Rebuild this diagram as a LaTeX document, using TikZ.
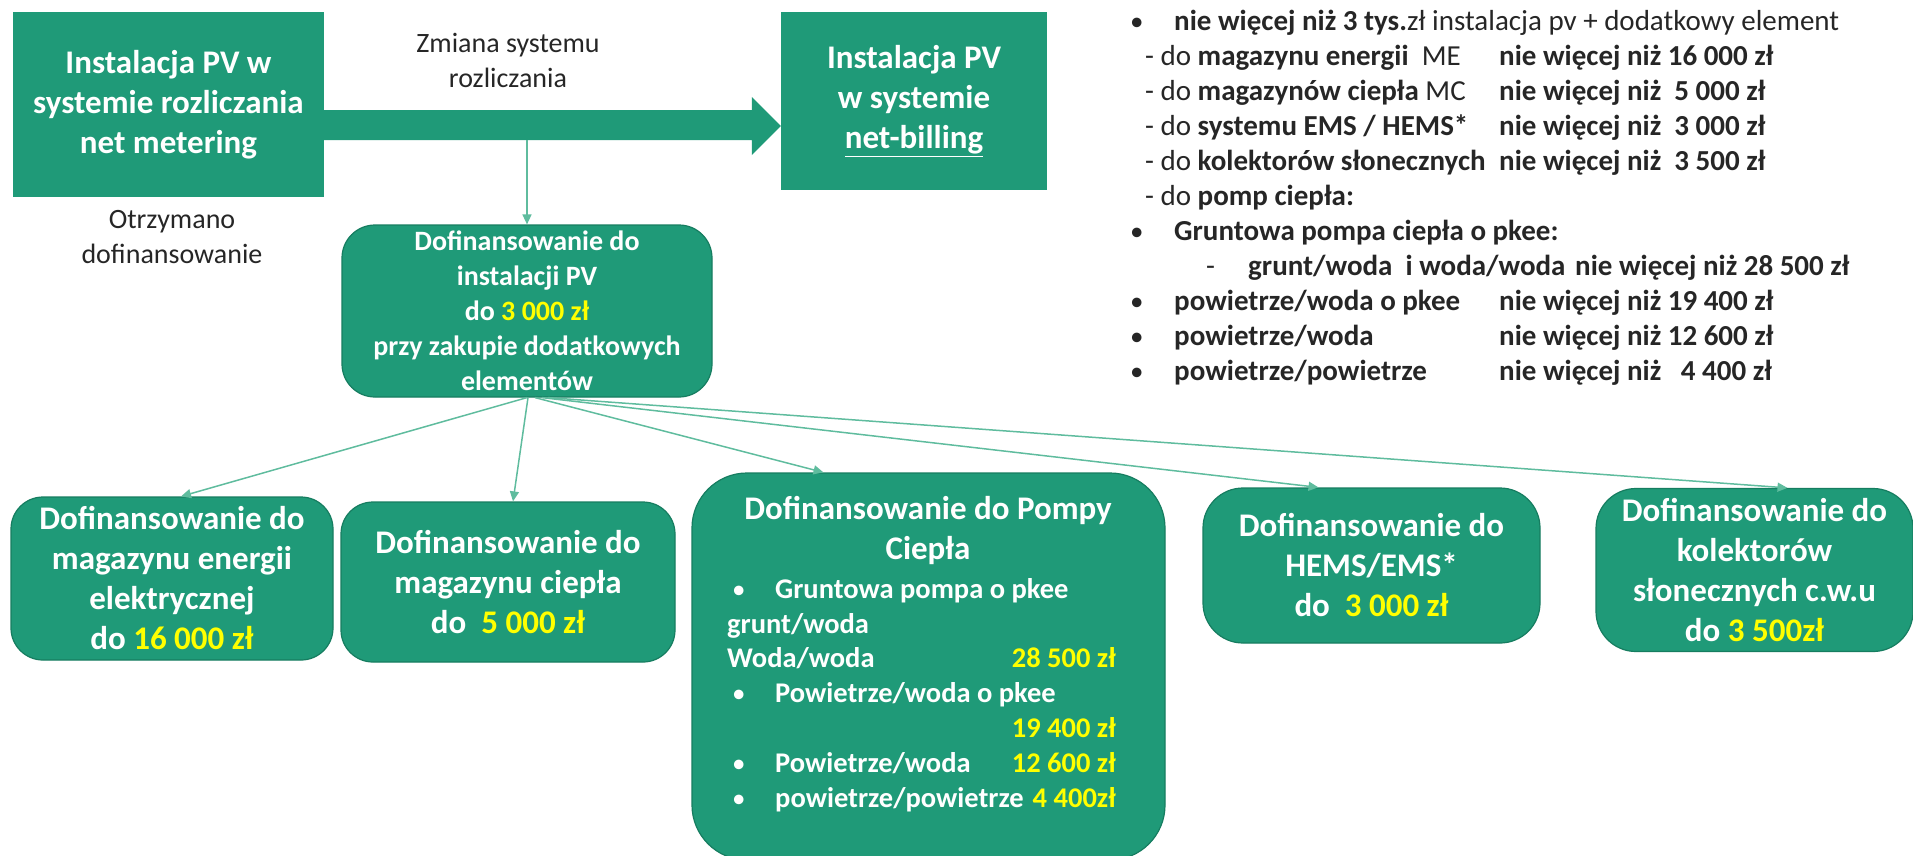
\documentclass[tikz,border=0pt]{standalone}
\usepackage{fontspec}
\setmainfont{Carlito}
\usetikzlibrary{arrows.meta,calc}
\definecolor{pvgreen}{RGB}{31,154,120}
\definecolor{pvdark}{RGB}{22,125,96}
\definecolor{pvline}{RGB}{95,188,158}
\definecolor{pvyellow}{RGB}{255,255,0}
\definecolor{txtdark}{RGB}{38,38,38}
\newcommand{\yl}[1]{\textcolor{pvyellow}{#1}}
\tikzset{
  sqbox/.style={fill=pvgreen, text=white, align=center, inner sep=0pt,
    font=\fontsize{33}{40}\selectfont\bfseries},
  rbox/.style={fill=pvgreen, draw=pvdark, line width=1.2pt, text=white,
    align=center, inner sep=0pt, rounded corners=#1,
    font=\fontsize{33}{40}\selectfont\bfseries},
  rbox/.default=32pt,
  plain/.style={text=txtdark, align=center, inner sep=0pt,
    font=\fontsize{28}{35}\selectfont},
  lst/.style={text=txtdark, anchor=base west, inner sep=0pt,
    font=\fontsize{29}{35}\selectfont},
  itm/.style={text=white, anchor=base west, inner sep=0pt,
    font=\fontsize{28.5}{35}\selectfont\bfseries},
  bul/.style={anchor=base west, inner sep=0pt,
    font=\fontsize{27}{35}\selectfont},
  amt/.style={text=pvyellow, anchor=base east, inner sep=0pt,
    font=\fontsize{28.5}{35}\selectfont\bfseries},
  conn/.style={draw=pvline, line width=1.5pt, -{Triangle[length=10pt,width=9pt]}}
}
\begin{document}
\begin{tikzpicture}[x=1pt,y=-1pt]
\useasboundingbox (0,0) rectangle (1913,855);

% top row
\node[sqbox, minimum width=311pt, minimum height=185pt] (A) at (168.5,104.5)
  {Instalacja PV w\\systemie rozliczania\\net metering};
\node[sqbox, minimum width=266pt, minimum height=178pt] (B) at (914,101)
  {Instalacja PV\\w systemie\\\underline{net-billing}};

% thick arrow
\coordinate (sh) at (500,125);
\fill[pvgreen] ($(A.east|-sh)+(0,-15)$) -- ($(B.west|-sh)+(-29,-15)$)
  -- ($(B.west|-sh)+(-29,-28)$) -- ($(B.west|-sh)+(0,1)$)
  -- ($(B.west|-sh)+(-29,30)$) -- ($(B.west|-sh)+(-29,15)$)
  -- ($(A.east|-sh)+(0,15)$) -- cycle;
\coordinate (shb) at (500,140);

\node[plain] (zm) at (508,60) {Zmiana systemu\\rozliczania};
\node[plain] (ot) at (172,237) {Otrzymano\\dofinansowanie};

% middle box
\node[rbox=33pt, minimum width=370pt, minimum height=172pt,
  font=\fontsize{28}{35}\selectfont\bfseries] (C) at (527,311)
  {Dofinansowanie do\\instalacji PV\\do \yl{3 000 zł}\\przy zakupie dodatkowych\\elementów};
\draw[conn] (C.north|-shb) -- (C.north);

% bottom boxes
\node[rbox=32pt, minimum width=322pt, minimum height=163pt] (D1) at (172,578.5)
  {Dofinansowanie do\\magazynu energii\\elektrycznej\\do \yl{16 000 zł}};
\node[rbox=32pt, minimum width=334pt, minimum height=160pt] (D2) at (508,582)
  {Dofinansowanie do\\magazynu ciepła\\do\ \ \yl{5 000 zł}};
\node[rbox=55pt, minimum width=473pt, minimum height=387pt] (D3) at (928.5,666.5) {};
\node[rbox=40pt, minimum width=337pt, minimum height=155pt] (D4) at (1371.5,565.5)
  {Dofinansowanie do\\HEMS/EMS*\\do\ \ \yl{3 000 zł}};
\node[rbox=40pt, minimum width=317pt, minimum height=163pt] (D5) at (1754.5,570)
  {Dofinansowanie do\\kolektorów\\słonecznych c.w.u\\do \yl{3 500zł}};

% contents of D3
\node[text=white, align=center, inner sep=0pt, font=\fontsize{33}{40}\selectfont\bfseries]
  (t3) at (928,530) {Dofinansowanie do Pompy\\Ciepła};
\node[bul, text=white] (b1) at (732,598) {•};
\node[itm] (i1) at (775,598) {Gruntowa pompa o pkee};
\node[itm] (i2) at (727,633) {grunt/woda};
\node[itm] (i3) at (727,667) {Woda/woda};
\node[amt] (a1) at (1116,667) {28 500 zł};
\node[bul, text=white] (b2) at (732,702) {•};
\node[itm] (i4) at (775,702) {Powietrze/woda o pkee};
\node[amt] (a2) at (1116,737) {19 400 zł};
\node[bul, text=white] (b3) at (732,772) {•};
\node[itm] (i5) at (775,772) {Powietrze/woda};
\node[amt] (a3) at (1116,772) {12 600 zł};
\node[bul, text=white] (b4) at (732,807) {•};
\node[itm] (i6) at (775,807) {powietrze/powietrze};
\node[amt] (a4) at (1116,807) {4 400zł};

% connectors to bottom boxes
\draw[conn] (C.south) -- ($(D1.north)+(9,0)$);
\draw[conn] ($(C.south)+(1,0)$) -- ($(D2.north)+(5,0)$);
\draw[conn] ($(C.south)+(8,0)$) -- ($(D3.north)+(-105,0)$);
\draw[conn] ($(C.south)+(15,0)$) -- ($(D4.north)+(-53,0)$);
\draw[conn] ($(C.south)+(21,0)$) -- ($(D5.north)+(33,0)$);

% right-hand list
\node[bul, text=txtdark] (l1b) at (1130,30) {•};
\node[lst] (l1) at (1174,30) {\textbf{nie więcej niż 3 tys.}zł instalacja pv + dodatkowy element};
\node[lst] (l2) at (1145,65) {- do \textbf{magazynu energii}\ \ ME};
\node[lst] (l2v) at (1499,65) {\textbf{nie więcej niż 16 000 zł}};
\node[lst] (l3) at (1145,100) {- do \textbf{magazynów ciepła} MC};
\node[lst] (l3v) at (1499,100) {\textbf{nie więcej niż\ \ 5 000 zł}};
\node[lst] (l4) at (1145,135) {- do \textbf{systemu EMS / HEMS*}};
\node[lst] (l4v) at (1499,135) {\textbf{nie więcej niż\ \ 3 000 zł}};
\node[lst] (l5) at (1145,170) {- do \textbf{kolektorów słonecznych}};
\node[lst] (l5v) at (1499,170) {\textbf{nie więcej niż\ \ 3 500 zł}};
\node[lst] (l6) at (1145,205) {- do \textbf{pomp ciepła:}};
\node[bul, text=txtdark] (l7b) at (1130,240) {•};
\node[lst] (l7) at (1174,240) {\textbf{Gruntowa pompa ciepła o pkee:}};
\node[lst] (l8b) at (1206,275) {-};
\node[lst] (l8) at (1248,275) {\textbf{grunt/woda\ \ i woda/woda}};
\node[lst] (l8v) at (1575,275) {\textbf{nie więcej niż 28 500 zł}};
\node[bul, text=txtdark] (l9b) at (1130,310) {•};
\node[lst] (l9) at (1174,310) {\textbf{powietrze/woda o pkee}};
\node[lst] (l9v) at (1499,310) {\textbf{nie więcej niż 19 400 zł}};
\node[bul, text=txtdark] (l10b) at (1130,345) {•};
\node[lst] (l10) at (1174,345) {\textbf{powietrze/woda}};
\node[lst] (l10v) at (1499,345) {\textbf{nie więcej niż 12 600 zł}};
\node[bul, text=txtdark] (l11b) at (1130,380) {•};
\node[lst] (l11) at (1174,380) {\textbf{powietrze/powietrze}};
\node[lst] (l11v) at (1499,380) {\textbf{nie więcej niż\ \ \ 4 400 zł}};
\end{tikzpicture}
\end{document}
